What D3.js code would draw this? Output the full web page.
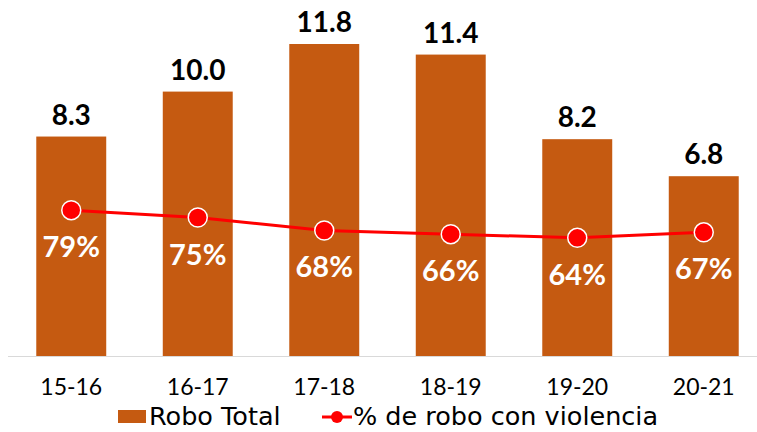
<!DOCTYPE html>
<html>
<head>
<meta charset="utf-8">
<script src="https://cdn.jsdelivr.net/npm/d3@7"></script>
<style>
  body { margin: 0; background: #fff; }
</style>
</head>
<body>
<svg id="chart"></svg>
<script>
// Data
const periods = ["15-16", "16-17", "17-18", "18-19", "19-20", "20-21"];
const roboTotal = [8.3, 10.0, 11.8, 11.4, 8.2, 6.8];
const pctViolencia = [0.79, 0.75, 0.68, 0.66, 0.64, 0.67];
const legendLabels = ["Robo Total", "% de robo con violencia"];

const width = 757, height = 432;
const baseY = 356;

const svg = d3.select("#chart")
  .attr("width", width).attr("height", height)
  .attr("font-family", "Lato, 'Noto Sans', sans-serif");

// Scales
const x = d3.scaleBand().domain(periods).range([8, 767]).paddingInner(0.447).paddingOuter(0.2235);
const y = d3.scaleLinear().domain([0, 11.8]).range([baseY, 44]);
const y2 = d3.scaleLinear().domain([0, 1]).range([baseY, 171.4]);
const cx = (i) => x(periods[i]) + x.bandwidth() / 2;

// Axis line
svg.append("line")
  .attr("x1", 8).attr("x2", width)
  .attr("y1", baseY + 0.5).attr("y2", baseY + 0.5)
  .attr("stroke", "#d9d9d9").attr("stroke-width", 1);

// Bars
svg.selectAll(".bar")
  .data(roboTotal)
  .enter()
  .append("rect")
  .attr("x", (d, i) => x(periods[i]))
  .attr("y", d => y(d))
  .attr("width", x.bandwidth())
  .attr("height", d => baseY - y(d))
  .attr("fill", "#C55A11");

// Bar value labels
svg.selectAll(".barlabel")
  .data(roboTotal)
  .enter()
  .append("text")
  .attr("x", (d, i) => cx(i))
  .attr("y", d => y(d) - 12)
  .attr("text-anchor", "middle")
  .attr("font-size", 28)
  .attr("font-weight", "bold")
  .attr("fill", "#000")
  .text(d => d.toFixed(1));

// Category labels
svg.selectAll(".cat")
  .data(periods)
  .enter()
  .append("text")
  .attr("x", d => x(d) + x.bandwidth() / 2)
  .attr("y", 395)
  .attr("text-anchor", "middle")
  .attr("font-size", 23)
  .attr("fill", "#000")
  .text(d => d);

// Line
const line = d3.line()
  .x((d, i) => cx(i))
  .y(d => y2(d));

svg.append("path")
  .datum(pctViolencia)
  .attr("fill", "none")
  .attr("stroke", "#FF0000")
  .attr("stroke-width", 3)
  .attr("d", line);

svg.selectAll(".dot")
  .data(pctViolencia)
  .enter()
  .append("circle")
  .attr("cx", (d, i) => cx(i))
  .attr("cy", d => y2(d))
  .attr("r", 9.5)
  .attr("fill", "#FF0000")
  .attr("stroke", "#fff")
  .attr("stroke-width", 1.5);

// Percent labels
svg.selectAll(".pct")
  .data(pctViolencia)
  .enter()
  .append("text")
  .attr("x", (d, i) => cx(i))
  .attr("y", d => y2(d) + 47)
  .attr("text-anchor", "middle")
  .attr("font-size", 29)
  .attr("font-weight", "bold")
  .attr("fill", "#fff")
  .text(d => Math.round(d * 100) + "%");

// Legend
const lg = svg.append("g").attr("font-family", "'DejaVu Sans', sans-serif");
lg.append("rect")
  .attr("x", 118).attr("y", 410)
  .attr("width", 28).attr("height", 13)
  .attr("fill", "#C55A11");
lg.append("text")
  .attr("x", 149).attr("y", 425)
  .attr("font-size", 25.5)
  .attr("fill", "#000")
  .text(legendLabels[0]);
lg.append("line")
  .attr("x1", 322).attr("x2", 352)
  .attr("y1", 417).attr("y2", 417)
  .attr("stroke", "#FF0000").attr("stroke-width", 3);
lg.append("circle")
  .attr("cx", 337).attr("cy", 417).attr("r", 6)
  .attr("fill", "#FF0000");
lg.append("text")
  .attr("x", 353).attr("y", 425)
  .attr("font-size", 25.5)
  .attr("fill", "#000")
  .text(legendLabels[1]);
</script>
</body>
</html>
